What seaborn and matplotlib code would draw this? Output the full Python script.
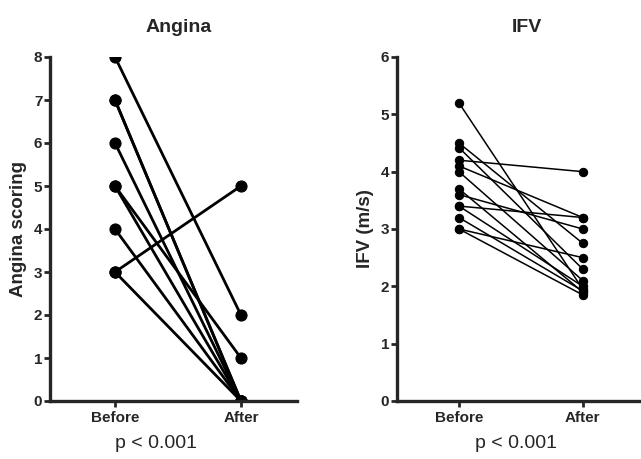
import pandas as pd
import numpy as np
import matplotlib
matplotlib.use("Agg")
import matplotlib.pyplot as plt
import seaborn as sns

times = ["Before", "After"]

# Angina scoring, one pair per patient
angina_before = [8, 7, 7, 6, 5, 5, 4, 3, 3]
angina_after = [2, 0, 0, 0, 1, 0, 0, 5, 0]

# IFV (m/s), one pair per patient
ifv_before = [5.2, 4.5, 4.42, 4.2, 4.1, 4.0, 3.7, 3.6, 3.4, 3.4, 3.2, 3.0, 3.0]
ifv_after = [1.95, 2.75, 2.3, 4.0, 3.2, 2.1, 1.9, 3.0, 3.2, 2.0, 1.92, 2.5, 1.85]


def to_long(before, after):
    n = len(before)
    return pd.DataFrame({
        "subject": list(range(n)) * 2,
        "time": [times[0]] * n + [times[1]] * n,
        "value": list(before) + list(after),
    })


sns.set_style("ticks")
plt.rcParams['font.family'] = ['Liberation Sans', 'DejaVu Sans']

fig = plt.figure(figsize=(6.41, 4.59), dpi=100)
ax1 = fig.add_axes([50 / 641, 58 / 459, 247 / 641, 344 / 459])
ax2 = fig.add_axes([397 / 641, 58 / 459, 244 / 641, 344 / 459])

panels = [
    (ax1, to_long(angina_before, angina_after), "Angina scoring", 8, 2.0, 8, (-0.516, 1.445)),
    (ax2, to_long(ifv_before, ifv_after), "IFV (m/s)", 6, 1.1, 6, (-0.5, 1.47)),
]

for ax, df, ylabel, ymax, lw, ms, xlim in panels:
    sns.lineplot(data=df, x="time", y="value", units="subject", estimator=None,
                 color="black", marker="o", markersize=ms, markeredgecolor="black",
                 linewidth=lw, sort=False, ax=ax)
    for line in ax.lines:
        line.set_clip_on(True)
    ax.set_ylim(0, ymax)
    ax.set_xlim(*xlim)
    ax.set_yticks(range(0, ymax + 1))
    ax.set_xlabel("")
    ax.set_ylabel(ylabel, fontsize=13.5, fontweight="bold", labelpad=5)
    sns.despine(ax=ax)
    for s in ["left", "bottom"]:
        ax.spines[s].set_linewidth(2.4)
    ax.tick_params(width=2, length=4, labelsize=11, pad=1.5)
    ax.tick_params(axis="x", labelsize=11, pad=3)
    for lab in ax.get_xticklabels() + ax.get_yticklabels():
        lab.set_fontweight("bold")

fig.text(179 / 641, 1 - 27 / 459, "Angina", ha="center", va="center", fontsize=14, fontweight="bold")
fig.text(527 / 641, 1 - 27 / 459, "IFV", ha="center", va="center", fontsize=14, fontweight="bold")
fig.text(156 / 641, 1 - 443 / 459, "p < 0.001", ha="center", va="center", fontsize=14)
fig.text(516 / 641, 1 - 443 / 459, "p < 0.001", ha="center", va="center", fontsize=14)

fig.savefig("out.png", dpi=100)
